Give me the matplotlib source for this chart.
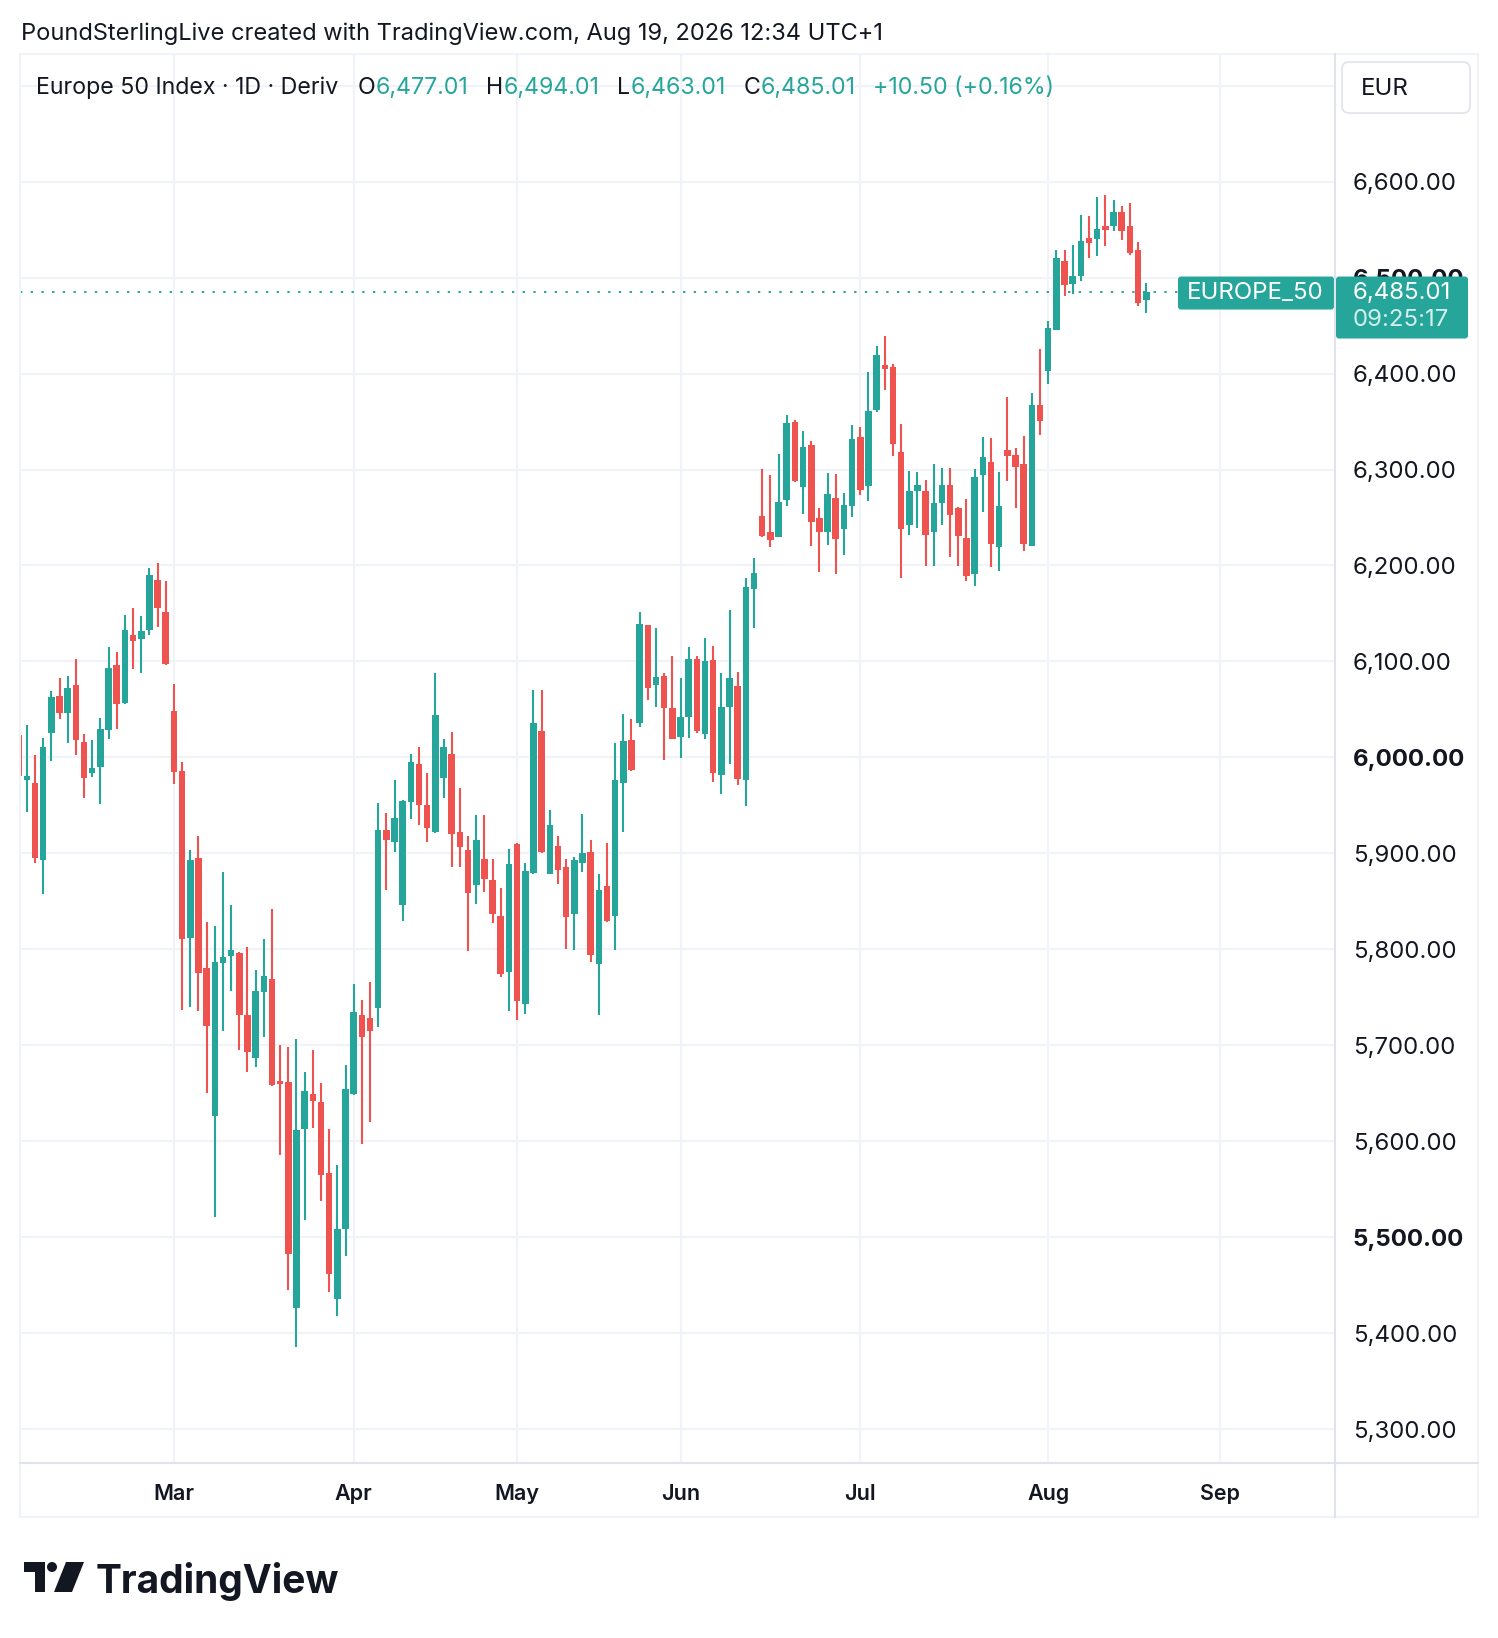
import matplotlib
matplotlib.use("Agg")
from matplotlib import pyplot as plt
from matplotlib.patches import FancyBboxPatch, Rectangle, Circle, Polygon
from matplotlib.lines import Line2D

plt.rcParams['font.family'] = ['Inter', 'DejaVu Sans']

# daily candles, Feb 3 .. Aug 19 2026 (one per trading day)
opens = [6023, 5976, 5973, 5893, 6025, 6064, 6046, 6075, 6016, 5984,
         5990, 6029, 6096, 6057, 6128, 6123, 6133, 6185, 6152, 6048,
         5986, 5812, 5895, 5780, 5626, 5786, 5793, 5796, 5731, 5687,
         5755, 5769, 5663, 5662, 5426, 5613, 5649, 5641, 5567, 5435,
         5508, 5649, 5731, 5728, 5739, 5924, 5912, 5846, 5953, 5993,
         5950, 5922, 5978, 6004, 5922, 5904, 5867, 5894, 5872, 5835,
         5776, 5910, 5743, 5879, 6028, 5878, 5908, 5886, 5837, 5890,
         5901, 5785, 5866, 5835, 5973, 6018, 6036, 6138, 6075, 6085,
         6051, 6021, 6042, 6103, 6024, 6102, 5982, 6053, 6074, 5976,
         6176, 6252, 6235, 6230, 6268, 6350, 6282, 6326, 6249, 6235,
         6270, 6238, 6262, 6334, 6283, 6362, 6409, 6407, 6318, 6242,
         6278, 6278, 6235, 6265, 6284, 6260, 6229, 6191, 6294, 6308,
         6219, 6320, 6315, 6306, 6220, 6367, 6403, 6445, 6517, 6493,
         6502, 6541, 6540, 6554, 6554, 6568, 6554, 6529, 6477.01]
highs = [6025, 6034, 6002, 6020, 6069, 6083, 6085, 6103, 6024, 6018,
         6041, 6115, 6110, 6148, 6156, 6147, 6197, 6203, 6184, 6077,
         5995, 5903, 5918, 5828, 5824, 5881, 5846, 5797, 5802, 5778,
         5811, 5842, 5700, 5698, 5706, 5672, 5695, 5661, 5613, 5575,
         5679, 5764, 5747, 5766, 5952, 5942, 5976, 5956, 6004, 6011,
         5984, 6088, 6019, 6026, 5968, 5918, 5940, 5940, 5894, 5864,
         5905, 5911, 5890, 6070, 6070, 5945, 5918, 5894, 5896, 5941,
         5914, 5878, 5911, 6015, 6045, 6040, 6152, 6138, 6135, 6088,
         6106, 6083, 6115, 6106, 6124, 6116, 6088, 6154, 6089, 6187,
         6208, 6301, 6294, 6316, 6357, 6352, 6340, 6330, 6260, 6296,
         6295, 6276, 6346, 6344, 6402, 6429, 6439, 6410, 6347, 6298,
         6297, 6289, 6306, 6302, 6302, 6261, 6269, 6301, 6334, 6333,
         6297, 6376, 6322, 6335, 6380, 6426, 6455, 6529, 6529, 6534,
         6565, 6564, 6584, 6586, 6581, 6575, 6578, 6537, 6494.01]
lows = [5978, 5943, 5890, 5858, 5996, 6040, 6015, 6002, 5958, 5980,
        5951, 6019, 6030, 6056, 6092, 6088, 6128, 6136, 6096, 5972,
        5737, 5740, 5736, 5650, 5521, 5715, 5757, 5695, 5672, 5677,
        5709, 5657, 5586, 5445, 5385, 5518, 5614, 5538, 5443, 5418,
        5480, 5648, 5597, 5620, 5719, 5862, 5901, 5829, 5936, 5930,
        5912, 5921, 5958, 5886, 5886, 5798, 5847, 5860, 5827, 5771,
        5736, 5726, 5733, 5878, 5900, 5878, 5868, 5800, 5799, 5881,
        5787, 5731, 5828, 5799, 5922, 5986, 6032, 6060, 6053, 5997,
        6019, 5999, 6020, 6025, 6019, 5974, 5962, 5993, 5971, 5949,
        6135, 6230, 6219, 6230, 6262, 6287, 6254, 6220, 6193, 6221,
        6191, 6211, 6251, 6273, 6267, 6360, 6383, 6314, 6187, 6232,
        6239, 6199, 6199, 6242, 6209, 6199, 6184, 6179, 6256, 6198,
        6194, 6288, 6260, 6215, 6220, 6336, 6389, 6445, 6481, 6483,
        6497, 6520, 6523, 6533, 6549, 6539, 6524, 6470, 6463.01]
closes = [5981, 5981, 5895, 6011, 6063, 6046, 6072, 6018, 5979, 5989,
          6030, 6093, 6056, 6133, 6121, 6132, 6190, 6156, 6097, 5985,
          5811, 5893, 5775, 5720, 5787, 5792, 5799, 5732, 5693, 5757,
          5772, 5659, 5660, 5482, 5612, 5652, 5642, 5565, 5462, 5508,
          5654, 5735, 5709, 5715, 5924, 5914, 5937, 5955, 5995, 5950,
          5926, 6044, 6011, 5920, 5907, 5859, 5914, 5873, 5837, 5774,
          5889, 5746, 5882, 6036, 5901, 5930, 5883, 5834, 5893, 5900,
          5794, 5862, 5830, 5976, 6017, 5987, 6139, 6072, 6084, 6051,
          6019, 6042, 6103, 6027, 6100, 5984, 6052, 6083, 5977, 6178,
          6192, 6231, 6227, 6266, 6349, 6288, 6324, 6245, 6235, 6274,
          6228, 6263, 6332, 6279, 6361, 6419, 6405, 6327, 6238, 6278,
          6284, 6232, 6265, 6284, 6253, 6231, 6189, 6292, 6313, 6222,
          6262, 6314, 6303, 6222, 6367, 6351, 6448, 6520, 6492, 6502,
          6538, 6536, 6551, 6550, 6568, 6549, 6526, 6474, 6485.01]

month_pos = [19, 41, 61, 81, 103, 126, 147]
month_names = ['Mar', 'Apr', 'May', 'Jun', 'Jul', 'Aug', 'Sep']
price_ticks = list(range(5300, 6700, 100))
bold_ticks = [5500, 6000, 6500]
last_price = 6485.01

UP = '#26a69a'
DOWN = '#ef5350'
TXT = '#131722'
GRID = '#f0f3fa'
LINE = '#e0e3eb'
FS = 17.3

W, H = 1498, 1638
fig = plt.figure(figsize=(W / 100, H / 100), dpi=100)
ax = fig.add_axes([20 / W, 1 - 1462.7 / H, (1335 - 20) / W, (1462.7 - 54) / H])
ax.set_xlim(0.16, 161.1)
ax.set_ylim(5264.9, 6733.1)

# grid
for p in price_ticks + [6700]:
    ax.axhline(p, color=GRID, lw=1.5, zorder=0)
for m in month_pos:
    ax.axvline(m, color=GRID, lw=1.5, zorder=0)

# candles
idx = list(range(len(opens)))
cols = [UP if c >= o else DOWN for o, c in zip(opens, closes)]
ax.vlines(idx, lows, highs, colors=cols, lw=1.5, zorder=2)
bottoms = [min(o, c) for o, c in zip(opens, closes)]
heights = [max(abs(c - o), 1.5) for o, c in zip(opens, closes)]
ax.bar(idx, heights, bottom=bottoms, width=0.8, color=cols, linewidth=0, zorder=3)

# last price dotted line
ax.axhline(last_price, xmin=0, xmax=(1178 - 20) / 1315, color=UP, lw=1.4,
           linestyle=(0, (1.2, 4.3)), zorder=1)

# axes labels
for s in ax.spines.values():
    s.set_visible(False)
ax.yaxis.tick_right()
ax.set_yticks(price_ticks, [f'{p:,.2f}' for p in price_ticks])
ax.tick_params(axis='y', length=0, pad=12.7, labelsize=FS, labelcolor=TXT)
for lbl in ax.get_yticklabels():
    if lbl.get_text() in [f'{p:,.2f}' for p in bold_ticks]:
        lbl.set_fontweight('bold')
ax.set_xticks(month_pos, month_names)
ax.tick_params(axis='x', length=0, pad=15, labelsize=15.5, labelcolor=TXT)
for lbl in ax.get_xticklabels():
    lbl.set_fontweight('semibold')

# overlay in pixel coordinates for the chrome
ov = fig.add_axes([0, 0, 1, 1])
ov.set_xlim(0, W)
ov.set_ylim(H, 0)
ov.axis('off')
ov.patch.set_visible(False)

# frame and separators
ov.add_line(Line2D([20, 1478, 1478, 20, 20], [54, 54, 1517, 1517, 54], color=GRID, lw=1.5))
ov.add_line(Line2D([1335, 1335], [54, 1517], color=LINE, lw=1.5))
ov.add_line(Line2D([20, 1478], [1462.7, 1462.7], color=LINE, lw=1.5))

# header
ov.text(21, 34, 'PoundSterlingLive created with TradingView.com, Aug 19, 2026 12:34 UTC+1',
        fontsize=17, color=TXT, va='center')

renderer = fig.canvas.get_renderer()
parts = [('Europe 50 Index · 1D · Deriv', TXT, 19), ('O', TXT, 0), ('6,477.01', UP, 18),
         ('H', TXT, 0), ('6,494.01', UP, 18), ('L', TXT, 0), ('6,463.01', UP, 18),
         ('C', TXT, 0), ('6,485.01', UP, 18), ('+10.50 (+0.16%)', UP, 0)]
x = 36.5
for s, c, gap in parts:
    t = ov.text(x, 88, s, fontsize=16.7, color=c, va='center')
    x += t.get_window_extent(renderer).width + gap

# EUR box
ov.add_patch(FancyBboxPatch((1342, 62), 128, 51, boxstyle='round,pad=0,rounding_size=7',
                            facecolor='white', edgecolor=LINE, lw=1.2))
ov.text(1360.7, 89, 'EUR', fontsize=FS, color=TXT, va='center')

# last price labels
py = H - ax.transData.transform((0, last_price))[1]
ov.add_patch(FancyBboxPatch((1178, py - 15.5), 156, 33, boxstyle='round,pad=0,rounding_size=3',
                            facecolor=UP, edgecolor='none'))
ov.text(1187, py + 0.5, 'EUROPE_50', fontsize=FS, color='white', va='center')
ov.add_patch(FancyBboxPatch((1336, py - 15.5), 132, 62, boxstyle='round,pad=0,rounding_size=3',
                            facecolor=UP, edgecolor='none', zorder=5))
ov.text(1352.7, py + 0.5, f'{last_price:,.2f}', fontsize=FS, color='white', va='center', zorder=6)
ov.text(1352.7, py + 28, '09:25:17', fontsize=FS, color='#d3eeeb', va='center', zorder=6)

# TradingView logo
ov.add_patch(Rectangle((24, 1562), 21, 10, color=TXT, lw=0))
ov.add_patch(Rectangle((35, 1562), 10, 30, color=TXT, lw=0))
ov.add_patch(Circle((52, 1567), 5, color=TXT, lw=0))
ov.add_patch(Polygon([(66, 1562), (84, 1562), (72, 1592), (54, 1592)], closed=True, color=TXT, lw=0))
ov.text(95.5, 1593, 'TradingView', fontsize=28, fontweight='bold', color=TXT, va='baseline')

fig.savefig('out.png', dpi=100)
